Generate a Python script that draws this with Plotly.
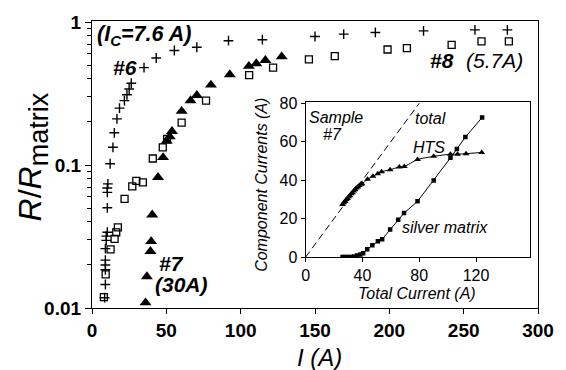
import plotly.graph_objects as go

# ---------------- main panel data ----------------
# sample #6 (crosses), Ic = 7.6 A
i6 = [8.5, 9.0, 9.0, 9.0, 9.0, 9.0, 9.6, 9.6, 10.3, 10.3, 10.3, 10.3, 10.7, 12.2,
      14.1, 15.0, 16.8, 18.5, 21.8, 23.5, 25.0, 26.4, 35.0, 43.2, 55.4, 70.5,
      91.8, 114.6, 150.0, 169.3, 190.6, 223.0, 257.6, 279.4]
r6 = [0.0118, 0.0146, 0.0185, 0.020, 0.0216, 0.026, 0.0297, 0.0318, 0.0339, 0.0502,
      0.0644, 0.069, 0.0738, 0.102, 0.133, 0.168, 0.21, 0.25, 0.282, 0.31, 0.34,
      0.373, 0.48, 0.56, 0.632, 0.666, 0.74, 0.752, 0.792, 0.823, 0.845, 0.867,
      0.881, 0.881]

# sample #8 (open squares), Ic = 5.7 A
i8 = [8.0, 9.2, 12.5, 15.2, 16.3, 17.4, 21.9, 27.1, 29.8, 34.2, 40.9, 47.6, 50.5,
      60.3, 76.7, 105.7, 121.8, 145.9, 163.3, 198.8, 211.8, 241.9, 262.0, 280.4]
r8 = [0.0119, 0.0172, 0.0257, 0.0304, 0.0338, 0.0366, 0.058, 0.0708, 0.0774, 0.0755,
      0.111, 0.133, 0.152, 0.198, 0.282, 0.425, 0.48, 0.548, 0.578, 0.642, 0.656,
      0.691, 0.732, 0.732]

# sample #7 (filled triangles), Ic = 30 A
i7 = [36.0, 36.9, 39.3, 39.8, 40.5, 44.4, 47.8, 50.2, 52.3, 53.8, 60.3, 66.3, 70.5,
      80.0, 92.7, 105.5, 110.5, 116.6, 127.6]
r7 = [0.0109, 0.0166, 0.0249, 0.0292, 0.0448, 0.082, 0.113, 0.147, 0.158, 0.172,
      0.238, 0.282, 0.307, 0.363, 0.429, 0.491, 0.512, 0.54, 0.572]

# ---------------- inset data (sample #7) ----------------
tot_x = [0, 80]
tot_y = [0, 80]
hts_x = [26.0, 26.8, 27.9, 28.6, 29.5, 30.3, 31.2, 32.1, 33.0, 33.8, 34.9, 35.7, 36.8,
         37.8, 38.9, 39.7, 43.6, 47.4, 50.8, 53.5, 59.5, 66.0, 69.5, 78.8, 90.2,
         102.0, 107.0, 113.0, 124.0]
hts_y = [27.4, 28.2, 28.9, 29.9, 30.4, 31.4, 31.9, 32.9, 33.4, 34.4, 35.0, 35.9, 36.4,
         37.2, 37.9, 38.2, 40.5, 42.0, 43.3, 44.4, 45.4, 46.9, 47.1, 50.7, 52.4,
         53.5, 53.5, 53.8, 54.4]
ag_x = [26.0, 28.0, 30.0, 32.0, 34.0, 36.2, 38.6, 40.5, 43.4, 47.0, 50.9, 53.9, 59.5,
        65.2, 69.3, 78.8, 90.2, 102.0, 106.5, 112.5, 124.3]
ag_y = [0.0, 0.0, 0.0, 0.0, 0.3, 0.8, 1.3, 2.0, 4.1, 6.1, 8.2, 9.3, 14.4, 19.4, 22.9,
        29.0, 39.8, 51.6, 56.2, 62.4, 72.6]

FONT = "Liberation Sans, Arial, sans-serif"
K = "black"

fig = go.Figure()
fig.add_trace(go.Scatter(x=i8, y=r8, mode="markers",
                         marker=dict(symbol="square-open", size=7, color=K,
                                     line=dict(width=1.3, color=K)),
                         showlegend=False))
fig.add_trace(go.Scatter(x=i6, y=r6, mode="markers",
                         marker=dict(symbol="cross-thin-open", size=7, color=K,
                                     line=dict(width=1.4, color=K)),
                         showlegend=False))
fig.add_trace(go.Scatter(x=i7, y=r7, mode="markers",
                         marker=dict(symbol="triangle-up", size=10.5, color=K),
                         showlegend=False))

# inset traces
fig.add_trace(go.Scatter(x=tot_x, y=tot_y, mode="lines", xaxis="x2", yaxis="y2",
                         line=dict(color=K, width=1, dash="7px,4px"),
                         showlegend=False))
fig.add_trace(go.Scatter(x=hts_x, y=hts_y, mode="lines+markers", xaxis="x2", yaxis="y2",
                         line=dict(color=K, width=1, shape="spline", smoothing=0.6),
                         marker=dict(symbol="triangle-up", size=6, color=K),
                         showlegend=False))
fig.add_trace(go.Scatter(x=ag_x, y=ag_y, mode="lines+markers", xaxis="x2", yaxis="y2",
                         line=dict(color=K, width=1),
                         marker=dict(symbol="square", size=4.5, color=K),
                         showlegend=False))

minor_vals = [m * 10 ** e for e in (-2, -1) for m in range(2, 10)]

fig.update_layout(
    width=566, height=370,
    margin=dict(l=92, r=26, t=15, b=62),
    paper_bgcolor="white", plot_bgcolor="white",
    font=dict(family=FONT, color=K),
    xaxis=dict(range=[0, 300], tickvals=[0, 50, 100, 150, 200, 250, 300],
               ticktext=["<b>0</b>", "<b>50</b>", "<b>100</b>", "<b>150</b>",
                         "<b>200</b>", "<b>250</b>", "<b>300</b>"],
               ticks="outside", ticklen=5, tickwidth=1.2, tickcolor=K,
               showline=True, linecolor=K, linewidth=1.3, mirror=True,
               showgrid=False, zeroline=False, tickfont=dict(size=19)),
    yaxis=dict(type="log", range=[-2, 0.007], tickvals=[0.01, 0.1, 1],
               ticktext=["<b>0.01</b>", "<b>0.1</b>", "<b>1</b>"],
               ticks="outside", ticklen=6, tickwidth=1.2, tickcolor=K,
               minor=dict(tickvals=minor_vals, ticks="outside", ticklen=4,
                          tickcolor=K, showgrid=False),
               showline=True, linecolor=K, linewidth=1.3, mirror=True,
               showgrid=False, zeroline=False, tickfont=dict(size=19)),
    xaxis2=dict(domain=[0.479, 0.982], anchor="y2", range=[0, 158],
                tickvals=[0, 40, 80, 120], ticks="outside", ticklen=4, tickcolor=K,
                showline=True, linecolor=K, linewidth=1.1, mirror=True,
                showgrid=False, zeroline=False, tickfont=dict(size=16)),
    yaxis2=dict(domain=[0.1775, 0.7167], anchor="x2", range=[0, 80.5],
                tickvals=[0, 20, 40, 60, 80], ticks="outside", ticklen=4, tickcolor=K,
                showline=True, linecolor=K, linewidth=1.1, mirror=True,
                showgrid=False, zeroline=False, tickfont=dict(size=16)),
)

ann = []
def A(text, x, y, size, xref="x", yref="y", xanchor="left", yanchor="middle", angle=0):
    ann.append(dict(text=text, x=x, y=y, xref=xref, yref=yref, xanchor=xanchor,
                    yanchor=yanchor, showarrow=False, textangle=angle,
                    font=dict(family=FONT, size=size, color=K)))

# main panel labels (y in log10 units)
A("<b><i>(I<sub>C</sub>=7.6 A)</i></b>", 1.8, -0.096, 21.5)
A("<b><i>#6</i></b>", 12.5, -0.316, 21)
A("<b><i>#7</i></b>", 44.0, -1.69, 21)
A("<b><i>(30A)</i></b>", 41.0, -1.835, 21)
A("<b><i>#8</i></b>", 226.2, -0.268, 21)
A("<i>(5.7A)</i>", 250.4, -0.268, 21)

# inset labels
A("<i>Sample</i>", 1.0, 72.8, 16, xref="x2", yref="y2")
A("<i>#7</i>", 10.8, 63.6, 16, xref="x2", yref="y2")
A("<i>total</i>", 75.6, 72.0, 16, xref="x2", yref="y2")
A("<i>HTS</i>", 74.2, 57.2, 16, xref="x2", yref="y2")
A("<i>silver matrix</i>", 66.6, 15.6, 16, xref="x2", yref="y2")

# axis titles
A("<i>I (A)</i>", 0.509, -0.174, 24, xref="paper", yref="paper", xanchor="center")
A("<i>R</i>/<i>R</i><sub><span style='font-size:27px'>matrix</span></sub>",
  -0.132, 0.525, 32, xref="paper", yref="paper", xanchor="center", angle=-90)
A("<i>Component Currents (A)</i>", 0.3795, 0.430, 16, xref="paper", yref="paper",
  xanchor="center", angle=-90)
A("<i>Total Current (A)</i>", 0.7277, 0.050, 16, xref="paper", yref="paper",
  xanchor="center")

fig.update_layout(annotations=ann)
fig.write_html("out.html")
